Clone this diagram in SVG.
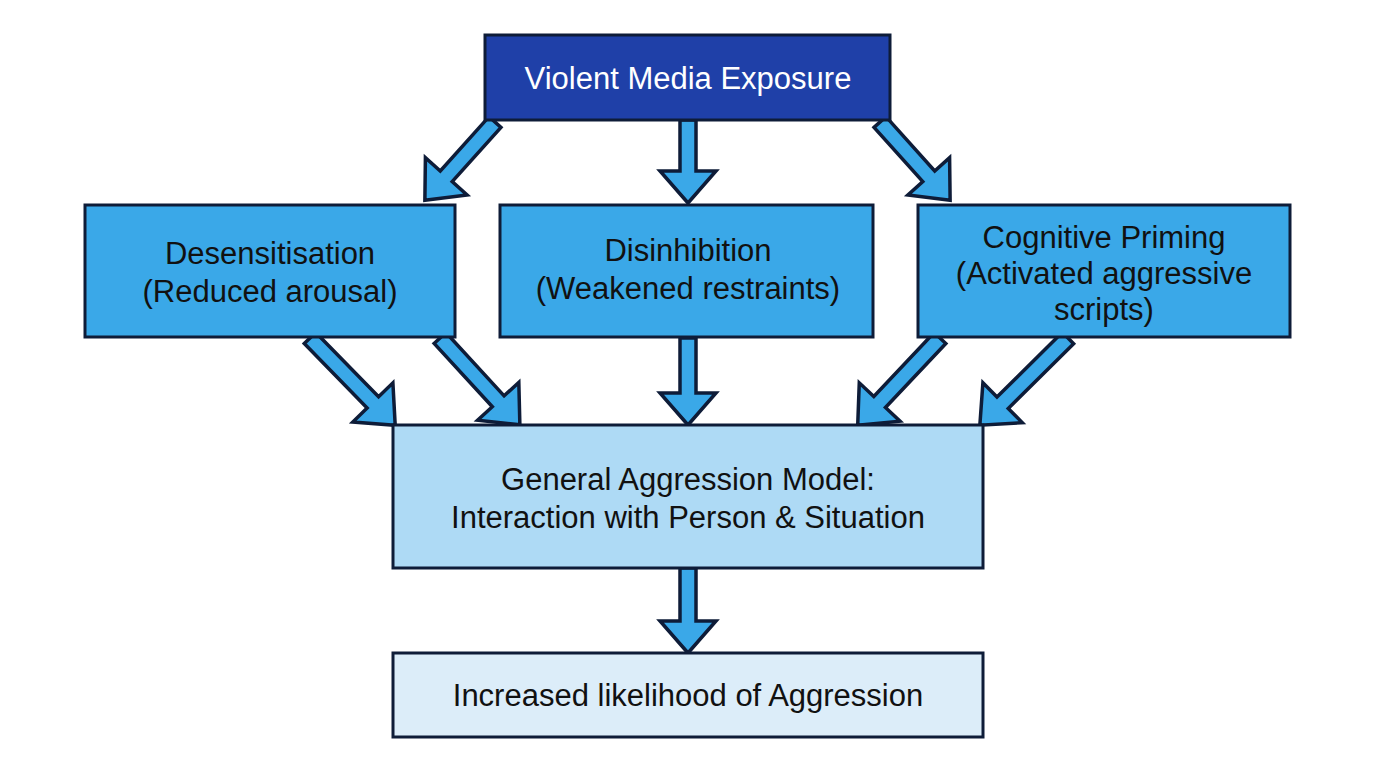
<svg xmlns="http://www.w3.org/2000/svg" width="1376" height="768" viewBox="0 0 1376 768">
<style>
.box{stroke:#0e1c38;stroke-width:3}
.t{font-family:"Liberation Sans",Arial,sans-serif;font-size:31px;fill:#111;text-anchor:middle}
.arr{fill:#3aa8e8;stroke:#0e1c38;stroke-width:3.5;stroke-linejoin:miter}
</style>
<rect width="1376" height="768" fill="#fff"/>
<g id="connectors">
<polygon class="arr" transform="translate(495,122) rotate(41.9)" points="-8,0 8,0 8,73 28,73 0,105 -28,73 -8,73"/>
<polygon class="arr" transform="translate(688,120)" points="-8,0 8,0 8,51 28,51 0,83 -28,51 -8,51"/>
<polygon class="arr" transform="translate(880,122) rotate(-41.9)" points="-8,0 8,0 8,73 28,73 0,105 -28,73 -8,73"/>
<polygon class="arr" transform="translate(310,338) rotate(-44.3)" points="-8,0 8,0 8,90 28,90 0,122 -28,90 -8,90"/>
<polygon class="arr" transform="translate(440,338) rotate(-42.6)" points="-8,0 8,0 8,86 28,86 0,118 -28,86 -8,86"/>
<polygon class="arr" transform="translate(688,338)" points="-8,0 8,0 8,55 28,55 0,87 -28,55 -8,55"/>
<polygon class="arr" transform="translate(940,338) rotate(43.3)" points="-8,0 8,0 8,88 28,88 0,120 -28,88 -8,88"/>
<polygon class="arr" transform="translate(1068,338) rotate(45.3)" points="-8,0 8,0 8,92 28,92 0,124 -28,92 -8,92"/>
<polygon class="arr" transform="translate(688,568)" points="-8,0 8,0 8,53 28,53 0,85 -28,53 -8,53"/>
</g>
<g id="n-top"><rect class="box" x="485" y="35" width="405" height="85" fill="#1f40a8"/><text class="t" x="688" y="89" style="fill:#fff">Violent Media Exposure</text></g>
<g id="n-desens"><rect class="box" x="85" y="205" width="370" height="132" fill="#3aa8e8"/><text class="t" x="270" y="264">Desensitisation</text><text class="t" x="270" y="302">(Reduced arousal)</text></g>
<g id="n-disinhib"><rect class="box" x="500" y="205" width="373" height="132" fill="#3aa8e8"/><text class="t" x="688" y="261">Disinhibition</text><text class="t" x="688" y="299">(Weakened restraints)</text></g>
<g id="n-cog"><rect class="box" x="918" y="205" width="372" height="132" fill="#3aa8e8"/><text class="t" x="1104" y="248">Cognitive Priming</text><text class="t" x="1104" y="284">(Activated aggressive</text><text class="t" x="1104" y="320">scripts)</text></g>
<g id="n-gam"><rect class="box" x="393" y="425" width="590" height="143" fill="#aedaf5"/><text class="t" x="688" y="490">General Aggression Model:</text><text class="t" x="688" y="528">Interaction with Person &amp; Situation</text></g>
<g id="n-out"><rect class="box" x="393" y="653" width="590" height="84" fill="#dcedf9"/><text class="t" x="688" y="706">Increased likelihood of Aggression</text></g>
</svg>
